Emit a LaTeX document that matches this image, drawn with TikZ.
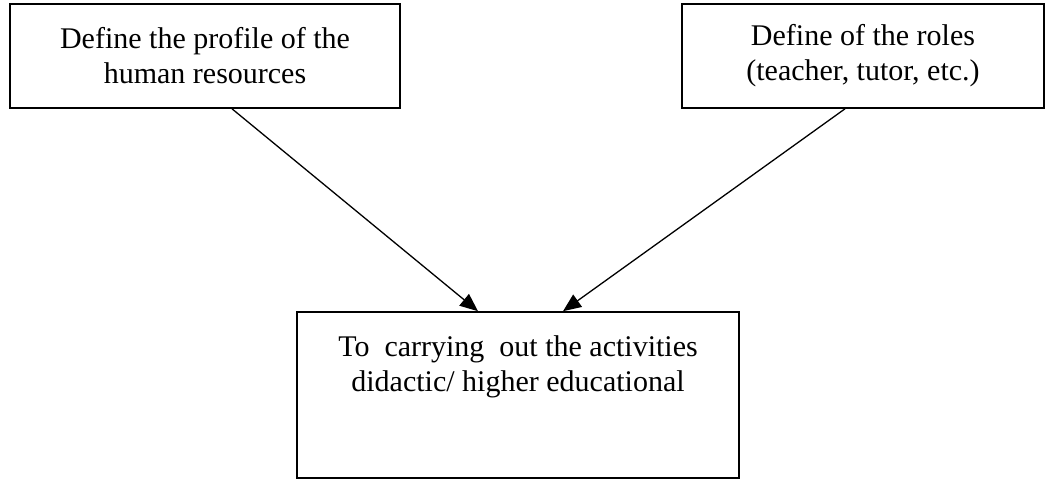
\documentclass[tikz,border=0pt]{standalone}
\usepackage{fontspec}
\setmainfont{Liberation Serif}
\usetikzlibrary{positioning, arrows.meta}

\begin{document}
\begin{tikzpicture}[x=1pt, y=-1pt,
	box/.style={draw, line width=1.6pt, align=center, inner sep=0pt, font=\fontsize{30}{35}\selectfont},
	link/.style={-{Triangle[length=18pt, width=15pt]}, line width=1.3pt}]

		\useasboundingbox (0,0) rectangle (1054,482);

		% nodes - top row and goal %
		\node[box, minimum width=390pt, minimum height=104pt] (profile) at (205,56) {Define the profile of the\\human resources};
		\node[box, minimum width=362pt, minimum height=104pt] (roles) at (863,56) {Define of the roles\\(teacher, tutor, etc.)};
		\node[box, minimum width=442pt, minimum height=166pt] (tasks) at (518,395) {To~ carrying~ out the activities\\didactic/ higher educational\\[28pt] \mbox{}};

		% edges %
		\draw[link] ([xshift=27pt]profile.south) -- ([xshift=-40pt]tasks.north);
		\draw[link] ([xshift=-18pt]roles.south) -- ([xshift=45pt]tasks.north);

\end{tikzpicture}
\end{document}
